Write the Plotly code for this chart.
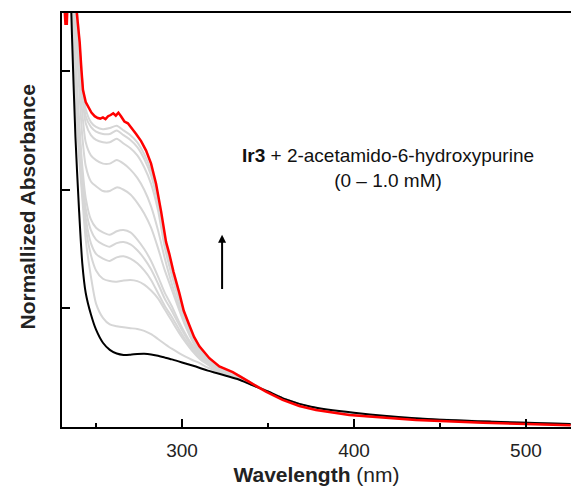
import plotly.graph_objects as go

# ---------------- data ----------------
WAVELENGTH = [232, 234, 236, 238, 240, 242, 244, 247, 250, 254, 258, 262, 266, 270, 274,
              278, 282, 286, 290, 294, 298, 302, 306, 310, 315, 320, 326, 333, 340, 350,
              360, 375, 400, 440, 480, 526]

ABS_0MM = [5.0, 4.3, 3.3, 2.45, 1.86, 1.38, 1.13, 0.95, 0.82, 0.71, 0.65, 0.62, 0.608, 0.61, 0.615,
           0.617, 0.612, 0.60, 0.585, 0.57, 0.553, 0.535, 0.518, 0.50, 0.475, 0.455, 0.43, 0.40, 0.358, 0.30,
           0.235, 0.17, 0.12, 0.07, 0.045, 0.025]

ABS_STEP_10 = [5.9, 5.2, 4.45, 3.75, 3.32, 2.92, 2.68, 2.57, 2.53, 2.51, 2.52, 2.54, 2.50, 2.46, 2.40,
               2.30, 2.16, 1.93, 1.58, 1.34, 1.12, 0.92, 0.775, 0.67, 0.588, 0.522, 0.476, 0.436, 0.374, 0.295,
               0.226, 0.159, 0.101, 0.061, 0.037, 0.016]
ABS_STEP_09 = [5.85, 5.15, 4.4, 3.7, 3.27, 2.86, 2.62, 2.53, 2.49, 2.47, 2.47, 2.50, 2.46, 2.42, 2.36,
               2.26, 2.12, 1.89, 1.55, 1.31, 1.10, 0.905, 0.765, 0.665, 0.584, 0.519, 0.473, 0.434, 0.372, 0.295,
               0.227, 0.16, 0.102, 0.062, 0.038, 0.017]
ABS_STEP_08 = [5.8, 5.1, 4.35, 3.65, 3.22, 2.8, 2.56, 2.46, 2.42, 2.40, 2.40, 2.43, 2.39, 2.35, 2.29,
               2.19, 2.05, 1.83, 1.51, 1.28, 1.08, 0.89, 0.755, 0.655, 0.578, 0.515, 0.47, 0.431, 0.37, 0.296,
               0.228, 0.161, 0.103, 0.063, 0.039, 0.018]
ABS_STEP_07 = [5.65, 4.95, 4.25, 3.55, 3.08, 2.65, 2.40, 2.29, 2.25, 2.22, 2.22, 2.25, 2.22, 2.17, 2.10,
               2.00, 1.86, 1.66, 1.42, 1.21, 1.03, 0.86, 0.735, 0.645, 0.57, 0.51, 0.466, 0.428, 0.368, 0.297,
               0.229, 0.162, 0.104, 0.064, 0.04, 0.019]
ABS_STEP_06 = [5.5, 4.8, 4.1, 3.4, 2.9, 2.45, 2.2, 2.07, 2.03, 1.99, 1.99, 2.02, 2.0, 1.96, 1.89,
               1.80, 1.68, 1.51, 1.32, 1.16, 1.0, 0.85, 0.725, 0.63, 0.56, 0.503, 0.461, 0.424, 0.366, 0.298,
               0.23, 0.163, 0.105, 0.065, 0.041, 0.02]
ABS_STEP_05 = [5.3, 4.6, 3.9, 3.15, 2.62, 2.2, 1.93, 1.75, 1.68, 1.64, 1.62, 1.65, 1.66, 1.64, 1.58,
               1.50, 1.40, 1.27, 1.13, 1.02, 0.895, 0.785, 0.69, 0.615, 0.55, 0.496, 0.456, 0.42, 0.364, 0.298,
               0.231, 0.164, 0.106, 0.066, 0.042, 0.021]
ABS_STEP_04 = [5.25, 4.55, 3.8, 3.06, 2.55, 2.12, 1.84, 1.66, 1.58, 1.54, 1.52, 1.55, 1.56, 1.54, 1.49,
               1.42, 1.33, 1.21, 1.08, 0.98, 0.87, 0.765, 0.675, 0.605, 0.543, 0.491, 0.452, 0.417, 0.362, 0.299,
               0.232, 0.165, 0.107, 0.067, 0.043, 0.022]
ABS_STEP_03 = [5.2, 4.5, 3.72, 2.98, 2.47, 2.05, 1.76, 1.55, 1.46, 1.42, 1.40, 1.43, 1.44, 1.42, 1.38,
               1.32, 1.24, 1.13, 1.02, 0.93, 0.83, 0.735, 0.655, 0.59, 0.535, 0.486, 0.448, 0.414, 0.361, 0.299,
               0.233, 0.166, 0.108, 0.068, 0.044, 0.023]
ABS_STEP_02 = [5.15, 4.45, 3.65, 2.9, 2.4, 1.98, 1.68, 1.45, 1.32, 1.25, 1.23, 1.225, 1.235, 1.24, 1.23,
               1.20, 1.15, 1.085, 0.99, 0.895, 0.80, 0.715, 0.64, 0.578, 0.525, 0.48, 0.444, 0.41, 0.36, 0.299,
               0.234, 0.167, 0.109, 0.069, 0.045, 0.024]
ABS_STEP_01 = [5.1, 4.4, 3.55, 2.8, 2.3, 1.93, 1.58, 1.27, 1.04, 0.92, 0.865, 0.85, 0.84, 0.833, 0.826,
               0.81, 0.782, 0.742, 0.70, 0.66, 0.625, 0.593, 0.565, 0.54, 0.50, 0.473, 0.44, 0.405, 0.359, 0.299,
               0.235, 0.168, 0.11, 0.07, 0.046, 0.026]

WAVELENGTH_1MM = [231.0, 232.2, 233.0, 233.8, 235.5, 238.8, 240.5, 241.5, 242.4, 244.0,
                  247.3, 249.2, 251.0, 252.5, 254.0, 255.5, 257.0, 258.5, 260.0, 261.5,
                  263.0, 264.5, 266.5, 268.5, 270.5, 273.3, 276.2, 279.1, 282.0, 284.9,
                  287.8, 290.7, 292.6, 295.0, 298.4, 301.0, 304.2, 307.0, 310.1, 315.9,
                  321.7, 329.5, 339.1, 348.8, 358.5, 368.2, 377.9, 397.3, 436.0, 475.0, 526.0]
ABS_1MM = [3.7, 3.40, 3.40, 3.7, 4.4, 3.49, 3.24, 3.01, 2.84, 2.74,
           2.65, 2.62, 2.605, 2.60, 2.61, 2.595, 2.62, 2.63, 2.645, 2.625,
           2.65, 2.62, 2.575, 2.56, 2.525, 2.47, 2.41, 2.33, 2.22, 2.05,
           1.82, 1.56, 1.46, 1.31, 1.13, 0.98, 0.86, 0.76, 0.68, 0.58,
           0.51, 0.462, 0.38, 0.298, 0.228, 0.177, 0.143, 0.101, 0.06, 0.036, 0.014]

X_MAJOR_TICKS = [300, 400, 500]
Y_TICKS = [1, 2, 3]

GRAY_SERIES = [ABS_STEP_01, ABS_STEP_02, ABS_STEP_03, ABS_STEP_04, ABS_STEP_05,
               ABS_STEP_06, ABS_STEP_07, ABS_STEP_08, ABS_STEP_09, ABS_STEP_10]

FONT = "Liberation Sans, Arial, sans-serif"

fig = go.Figure()
for ys in GRAY_SERIES:
    fig.add_trace(go.Scatter(x=WAVELENGTH, y=ys, mode="lines",
                             line=dict(color="rgb(214,214,214)", width=2, shape="spline", smoothing=0.7),
                             hoverinfo="skip", showlegend=False))
fig.add_trace(go.Scatter(x=WAVELENGTH, y=ABS_0MM, mode="lines",
                         line=dict(color="black", width=2, shape="spline", smoothing=0.7),
                         showlegend=False))
fig.add_trace(go.Scatter(x=WAVELENGTH_1MM, y=ABS_1MM, mode="lines",
                         line=dict(color="#ff0000", width=2.5),
                         showlegend=False))

fig.update_layout(
    width=571, height=494,
    margin=dict(l=62, r=0, t=13, b=67),
    paper_bgcolor="white", plot_bgcolor="white",
    font=dict(family=FONT, color="#222222"),
    showlegend=False,
    xaxis=dict(range=[230.2, 526.2], showgrid=False, zeroline=False,
               showline=True, linecolor="black", linewidth=2, mirror=True,
               tickmode="array", tickvals=X_MAJOR_TICKS,
               ticks="inside", ticklen=8, tickwidth=2, tickcolor="black",
               minor=dict(dtick=50, tick0=0, ticks="inside", ticklen=4, tickwidth=2, tickcolor="black"),
               tickfont=dict(size=19, family=FONT, color="#222222"),
               ticklabelstandoff=5,
               title=dict(text="<b>Wavelength</b> (nm)", font=dict(size=21, family=FONT, color="#222222"),
                          standoff=8)),
    yaxis=dict(range=[0, 3.49], showgrid=False, zeroline=False,
               showline=True, linecolor="black", linewidth=2, mirror=False,
               tickmode="array", tickvals=Y_TICKS, showticklabels=False,
               ticks="inside", ticklen=8, tickwidth=2, tickcolor="black"),
)

fig.add_annotation(xref="paper", yref="paper", x=-62/509, y=(427-207)/414,
                   xanchor="left", yanchor="middle", xshift=13,
                   text="<b>Normallized Absorbance</b>", textangle=-90, showarrow=False,
                   font=dict(size=21, family=FONT, color="#222222"))

fig.add_annotation(xref="x", yref="y", x=419.5, y=2.18, showarrow=False, align="center",
                   text="<b>Ir3</b> + 2-acetamido-6-hydroxypurine<br>(0 – 1.0 mM)",
                   font=dict(size=19, family=FONT, color="#111111"))

fig.add_annotation(xref="x", yref="y", axref="x", ayref="y",
                   x=323.3, y=1.62, ax=323.3, ay=1.15, text="", showarrow=True,
                   arrowhead=2, arrowsize=0.8, arrowwidth=2, arrowcolor="black")

fig.write_html("out.html")
